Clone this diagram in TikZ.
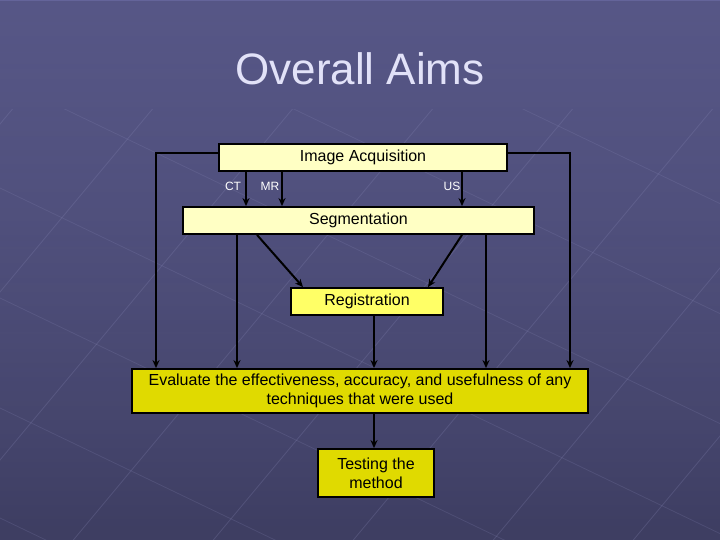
\documentclass[tikz,border=0pt]{standalone}
\usepackage{fontspec}
\setmainfont{Liberation Sans}
\usetikzlibrary{arrows.meta,fadings}
\definecolor{bgA}{HTML}{64649A}
\definecolor{bgB}{HTML}{3E3E62}
\definecolor{paleY}{HTML}{FFFFC4}
\definecolor{midY}{HTML}{FFFF66}
\definecolor{deepY}{HTML}{E0DA00}
\definecolor{titleC}{HTML}{E2E2F8}
\definecolor{gridC}{HTML}{8A8AB8}
\tikzset{
  box/.style={draw=black, line width=1.8pt, inner sep=0pt, font=\fontsize{16}{19}\selectfont, align=center},
  conn/.style={line width=2pt, -{Stealth[length=8pt,width=7pt]}},
  lbl/.style={font=\fontsize{12}{14}\selectfont, text=white, inner sep=0pt}
}
\begin{document}
\begin{tikzpicture}[x=1pt,y=-1pt]
\useasboundingbox (0,0) rectangle (720,540);
\shade[left color=bgA, right color=bgB, shading angle=0] (0,0) rectangle (720,540);
\fill[bgB, opacity=0.35, path fading=south] (0,0) rectangle (720,540);
% faint perspective grid
\begin{scope}
\clip (0,110) rectangle (720,540);
\foreach \i in {-4,...,6} {
  \draw[gridC, opacity=0.25, line width=0.8pt] (\i*140-200,700) -- ++(700,-840);
  \draw[gridC, opacity=0.2, line width=0.8pt] (-100,\i*110-80) -- ++(1000,480);
}
\end{scope}
\node[text=titleC, font=\fontsize{44}{50}\selectfont] (title) at (360,69) {Overall Aims};
% boxes
\node[box, fill=paleY, minimum width=288pt, minimum height=27pt] (acq) at (363,157.5) {Image Acquisition};
\node[box, fill=paleY, minimum width=351pt, minimum height=27pt] (seg) at (358.5,220.5) {Segmentation};
\node[box, fill=midY, minimum width=152pt, minimum height=27pt] (reg) at (367,301.5) {Registration};
\node[box, fill=deepY, minimum width=456pt, minimum height=44pt] (eval) at (360,391) {Evaluate the effectiveness, accuracy, and usefulness of any\\techniques that were used};
\node[box, fill=deepY, minimum width=116pt, minimum height=48pt] (test) at (376,473) {Testing the\\method};
% labels
\node[lbl] (ct) at (233,186) {CT};
\node[lbl] (mr) at (270,186) {MR};
\node[lbl] (us) at (452,186) {US};
% connectors
\draw[conn] (acq.west |- 0,153) -| (eval.north -| 156,0);
\draw[conn] (acq.east |- 0,153) -| (eval.north -| 570,0);
\draw[conn] (acq.south -| 246,0) -- (seg.north -| 246,0);
\draw[conn] (acq.south -| 282,0) -- (seg.north -| 282,0);
\draw[conn] (acq.south -| 462,0) -- (seg.north -| 462,0);
\draw[conn] (seg.south -| 257,0) -- (reg.north -| 303,0);
\draw[conn] (seg.south -| 462,0) -- (reg.north -| 428,0);
\draw[conn] (seg.south -| 237,0) -- (eval.north -| 237,0);
\draw[conn] (seg.south -| 486,0) -- (eval.north -| 486,0);
\draw[conn] (reg.south -| 374,0) -- (eval.north -| 374,0);
\draw[conn] (eval.south -| 374,0) -- (test.north -| 374,0);
\end{tikzpicture}
\end{document}
